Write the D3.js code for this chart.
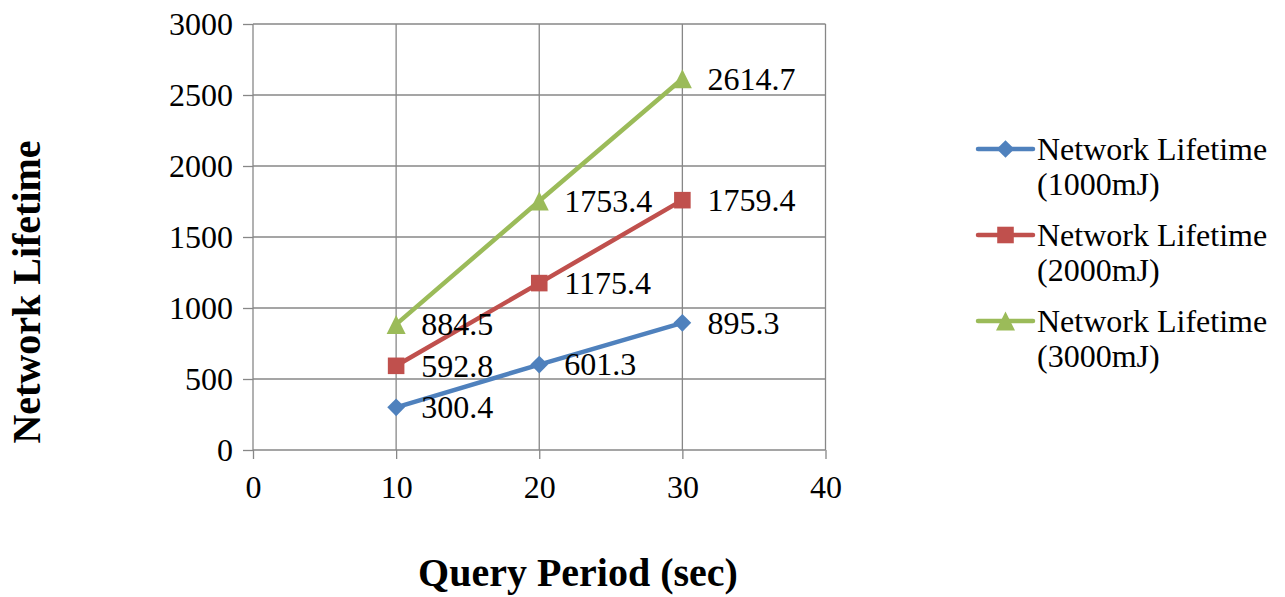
<!DOCTYPE html>
<html>
<head>
<meta charset="utf-8">
<script src="https://cdn.jsdelivr.net/npm/d3@7"></script>
<style>
  html, body { margin: 0; padding: 0; background: #fff; }
  svg { display: block; font-family: "Liberation Serif", "Times New Roman", serif; }
  svg text { font-family: "Liberation Serif", "Times New Roman", serif; }
</style>
</head>
<body>
<svg id="chart" width="1285" height="597"></svg>
<script>
// Query periods (sec) on the x axis
const periods = [10, 20, 30];
// Network lifetime per initial energy budget
const life1000 = [300.4, 601.3, 895.3];
const life2000 = [592.8, 1175.4, 1759.4];
const life3000 = [884.5, 1753.4, 2614.7];
const seriesNames = ["Network Lifetime (1000mJ)", "Network Lifetime (2000mJ)", "Network Lifetime (3000mJ)"];
const xTicks = [0, 10, 20, 30, 40];
const yTicks = [0, 500, 1000, 1500, 2000, 2500, 3000];

const series = [
  { name: seriesNames[0], values: life1000, color: "#4F81BD", shape: "diamond" },
  { name: seriesNames[1], values: life2000, color: "#C0504D", shape: "square" },
  { name: seriesNames[2], values: life3000, color: "#9BBB59", shape: "triangle" }
];

const svg = d3.select("#chart");
const x = d3.scaleLinear().domain([0, 40]).range([253, 825.5]);
const y = d3.scaleLinear().domain([0, 3000]).range([450, 24]);

const gridColor = "#878787";
const fontSize = "32px";

// gridlines
svg.append("g").selectAll("line").data(yTicks).join("line")
  .attr("x1", x(0)).attr("x2", x(40))
  .attr("y1", d => y(d)).attr("y2", d => y(d))
  .attr("stroke", gridColor).attr("stroke-width", 1.3);
svg.append("g").selectAll("line").data(xTicks).join("line")
  .attr("x1", d => x(d)).attr("x2", d => x(d))
  .attr("y1", y(0)).attr("y2", y(3000))
  .attr("stroke", gridColor).attr("stroke-width", 1.3);

// axes
const yAxis = d3.axisLeft(y).tickValues(yTicks).tickFormat(d3.format("d")).tickSize(10).tickPadding(10);
const xAxis = d3.axisBottom(x).tickValues(xTicks).tickFormat(d3.format("d")).tickSize(9).tickPadding(11);
const gy = svg.append("g").attr("transform", `translate(${x(0)},0)`).call(yAxis);
const gx = svg.append("g").attr("transform", `translate(0,${y(0)})`).call(xAxis);
[gx, gy].forEach(g => {
  g.attr("font-family", null).attr("font-size", null);
  g.select(".domain").remove();
  g.selectAll(".tick line").attr("stroke", gridColor).attr("stroke-width", 1.3);
  g.selectAll(".tick text").attr("fill", "#000").style("font-size", fontSize);
});
gy.selectAll(".tick text").attr("dy", "0.34em");
gx.selectAll(".tick text").attr("dy", "0.88em");

// marker outlines, centred on the data point
const triangleShape = {
  draw(ctx) {
    ctx.moveTo(0, -9.5);
    ctx.lineTo(9.5, 9.5);
    ctx.lineTo(-9.5, 9.5);
    ctx.closePath();
  }
};
function marker(shape) {
  if (shape === "diamond") return d3.symbol().type(d3.symbolDiamond2).size(200)();
  if (shape === "square") return d3.symbol().type(d3.symbolSquare2).size(350)();
  return d3.symbol().type(triangleShape)();
}

const line = d3.line().x((d, i) => x(periods[i])).y(d => y(d));

series.forEach(s => {
  const g = svg.append("g");
  g.append("path").attr("d", line(s.values))
    .attr("fill", "none").attr("stroke", s.color).attr("stroke-width", 4.5)
    .attr("stroke-linejoin", "round");
  g.selectAll("path.m").data(s.values).join("path").attr("class", "m")
    .attr("d", marker(s.shape))
    .attr("transform", (d, i) => `translate(${x(periods[i])},${y(d)})`)
    .attr("fill", s.color);
  g.selectAll("text").data(s.values).join("text")
    .attr("x", (d, i) => x(periods[i]) + 25)
    .attr("y", d => y(d))
    .attr("dy", "0.34em")
    .style("font-size", fontSize)
    .attr("fill", "#000")
    .text(d => d.toFixed(1));
});

// legend
const legend = svg.append("g");
series.forEach((s, i) => {
  const ly = 149 + i * 86;
  legend.append("line").attr("x1", 978).attr("x2", 1033).attr("y1", ly).attr("y2", ly)
    .attr("stroke", s.color).attr("stroke-width", 4.5).attr("stroke-linecap", "round");
  legend.append("path").attr("d", marker(s.shape))
    .attr("transform", `translate(1005.5,${ly})`)
    .attr("fill", s.color);
  const parts = s.name.match(/^(.*) (\(.*\))$/);
  const t = legend.append("text").attr("x", 1037).attr("y", ly + 11)
    .style("font-size", fontSize).attr("fill", "#000");
  t.append("tspan").attr("x", 1037).text(parts[1]);
  t.append("tspan").attr("x", 1037).attr("dy", 35).text(parts[2]);
});

// axis titles
svg.append("text").attr("x", 578).attr("y", 586)
  .attr("text-anchor", "middle").style("font-size", "40px").style("font-weight", "bold")
  .text("Query Period (sec)");
svg.append("text")
  .attr("transform", "translate(40,292) rotate(-90)")
  .attr("text-anchor", "middle").style("font-size", "40px").style("font-weight", "bold")
  .text("Network Lifetime");
</script>
</body>
</html>
